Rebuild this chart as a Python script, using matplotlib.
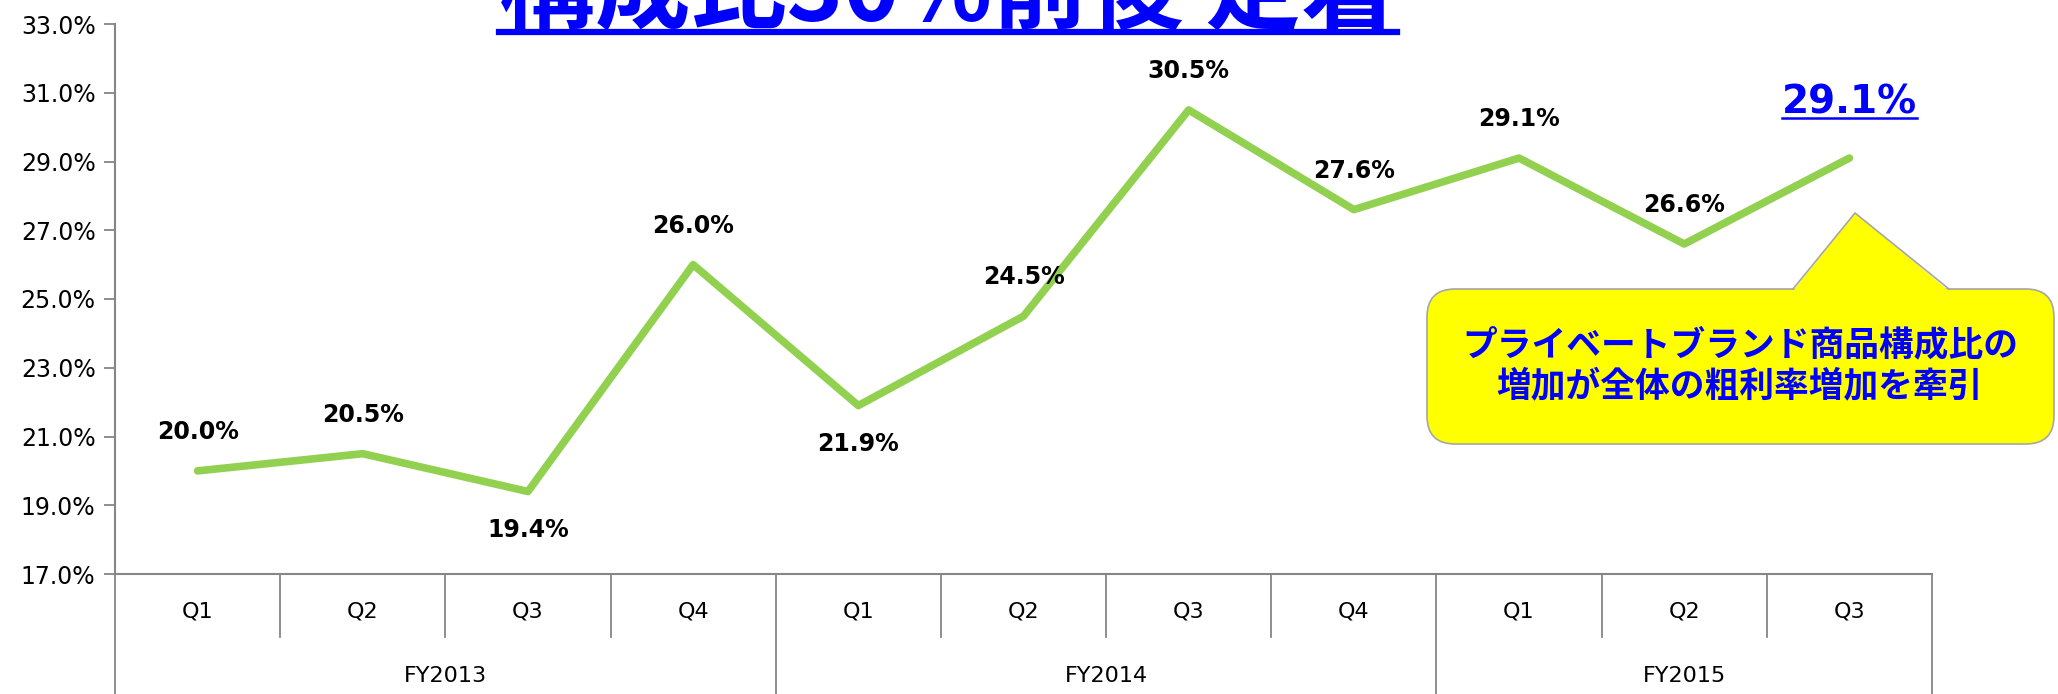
import matplotlib
matplotlib.use("Agg")
from matplotlib import pyplot as plt
from matplotlib.lines import Line2D
from matplotlib.patches import FancyBboxPatch, Polygon
from matplotlib.ticker import FuncFormatter

# data
quarters = ["Q1", "Q2", "Q3", "Q4", "Q1", "Q2", "Q3", "Q4", "Q1", "Q2", "Q3"]
years = ["FY2013", "FY2014", "FY2015"]
year_sizes = [4, 4, 3]
ratio = [20.0, 20.5, 19.4, 26.0, 21.9, 24.5, 30.5, 27.6, 29.1, 26.6, 29.1]
label_side = [1, 1, -1, 1, -1, 1, 1, 1, 1, 1, 1]  # 1 above, -1 below

title = "構成比30%前後 定着"
note = "プライベートブランド商品構成比の\n増加が全体の粗利率増加を牽引"

GREEN = "#92D050"
BLUE = "#0000FF"
GRAY = "#868686"
JP = ["Noto Sans CJK JP", "DejaVu Sans"]

W, H = 2058, 694
fig = plt.figure(figsize=(W / 100, H / 100), dpi=100)
ax = fig.add_axes([115 / W, 1 - 574 / H, (1932 - 115) / W, (574 - 24) / H])

x = list(range(len(ratio)))
ax.plot(x, ratio, color=GREEN, lw=5.5, solid_capstyle="round",
        solid_joinstyle="round", zorder=3)
ax.set_xlim(-0.5, len(ratio) - 0.5)
ax.set_ylim(17, 33)
ax.set_yticks(range(17, 34, 2))
ax.yaxis.set_major_formatter(FuncFormatter(lambda v, p: f"{v:.1f}%"))
ax.tick_params(axis="y", labelsize=17, length=8, width=1.3, color=GRAY, pad=6)
ax.set_xticks([])
for s in ("top", "right"):
    ax.spines[s].set_visible(False)
for s in ("left", "bottom"):
    ax.spines[s].set_color(GRAY)
    ax.spines[s].set_linewidth(1.5)

# two level category axis
ah = 550.0
q_bottom = -63 / ah
fy_bottom = -125 / ah
tr = ax.get_xaxis_transform()
for i, q in enumerate(quarters):
    ax.text(i, -38 / ah, q, transform=tr, ha="center", va="center", fontsize=16)
starts = [sum(year_sizes[:k]) for k in range(len(year_sizes) + 1)]
for i in range(len(quarters) + 1):
    y1 = fy_bottom if i in starts else q_bottom
    ax.add_line(Line2D([i - 0.5, i - 0.5], [0, y1], transform=tr, color=GRAY,
                       lw=1.3, clip_on=False))
for k, fy in enumerate(years):
    mid = (starts[k] + starts[k + 1] - 1) / 2
    ax.text(mid, -102 / ah, fy, transform=tr, ha="center", va="center", fontsize=16)

# value labels
labels = []
for i, (v, s) in enumerate(zip(ratio, label_side)):
    if i == len(ratio) - 1:
        t = ax.annotate(f"{v:.1f}%", (i, v), xytext=(0, 40), textcoords="offset points",
                        ha="center", va="center", fontsize=28, fontweight="bold",
                        color=BLUE)
        labels.append(t)
    else:
        ax.annotate(f"{v:.1f}%", (i, v), xytext=(0, 28 * s), textcoords="offset points",
                    ha="center", va="center", fontsize=17, fontweight="bold")

# cropped title
tt = fig.text(948 / W, 1 - 21 / H, title, ha="center", va="baseline", fontsize=69,
              fontweight="bold", color=BLUE, family=JP)

fig.canvas.draw()
r = fig.canvas.get_renderer()
bb = tt.get_window_extent(r)
fig.add_artist(Line2D([bb.x0 / W, bb.x1 / W], [1 - 32 / H] * 2, color=BLUE, lw=4.5))
bb = labels[0].get_window_extent(r)
uy = bb.y0 + 4
fig.add_artist(Line2D([bb.x0 / W, bb.x1 / W], [uy / H] * 2, color=BLUE, lw=1.8))

# callout
ov = fig.add_axes([0, 0, 1, 1], zorder=5)
ov.set_xlim(0, W)
ov.set_ylim(H, 0)
ov.axis("off")
ov.add_patch(FancyBboxPatch((1427, 289), 627, 155,
                            boxstyle="round,pad=0,rounding_size=28",
                            fc="#FFFF00", ec="#A6A6A6", lw=1.2))
ov.add_patch(Polygon([(1793, 291), (1855, 213), (1949, 291)], closed=True,
                     fc="#FFFF00", ec="none"))
ov.add_line(Line2D([1793, 1855, 1949], [289, 213, 289], color="#A6A6A6", lw=1.2))
ov.text(1740, 366, note, ha="center", va="center", fontsize=25, fontweight="bold",
        color=BLUE, family=JP, linespacing=1.25)

fig.savefig("out.png", dpi=100)
